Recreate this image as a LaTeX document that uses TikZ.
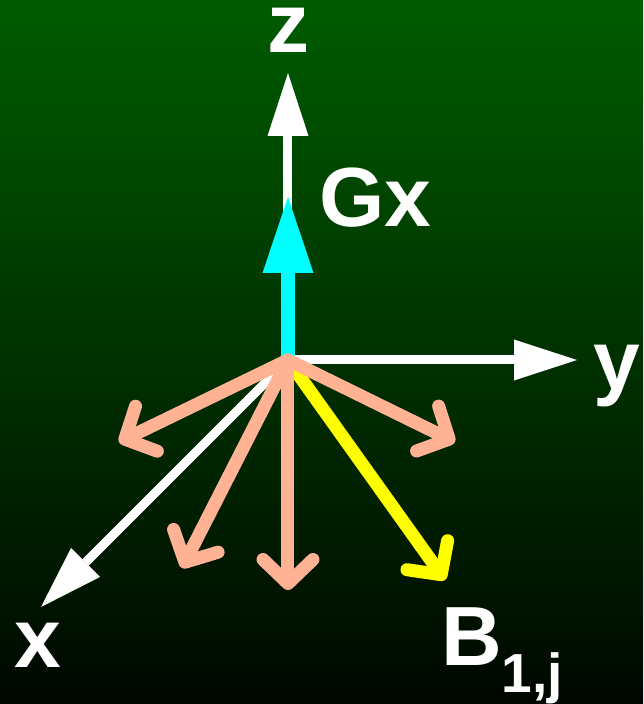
\documentclass[tikz,border=0pt]{standalone}
\usepackage{fontspec}
\setmainfont{Liberation Sans}
\usepackage{tikz}
\usetikzlibrary{arrows.meta,positioning}
\definecolor{BgTop}{HTML}{005C00}
\definecolor{BgBot}{HTML}{000700}
\definecolor{Salmon}{HTML}{FFB394}
\definecolor{Aqua}{HTML}{00FFFF}
\definecolor{Lemon}{HTML}{FFFF00}
\tikzset{
  axis/.style={-{Triangle[length=63pt,width=41pt,line width=0pt]},line width=9pt,draw=white},
  gfield/.style={-{Triangle[length=76pt,width=51pt,line width=0pt]},line width=14pt,draw=Aqua},
  bvec/.style={-{Straight Barb[length=24pt,width=50pt,round]},line width=13pt,draw=Salmon,line cap=round},
  bsel/.style={bvec,draw=Lemon},
  lbl/.style={text=white,font=\fontsize{84}{90}\selectfont\bfseries,inner sep=0pt}
}

\begin{document}
\begin{tikzpicture}[x=1pt,y=1pt]
        \shade[top color=BgTop,bottom color=BgBot] (-288,-344) rectangle (355,360);
        \useasboundingbox (-288,-344) rectangle (355,360);

        \coordinate (O) at (0,0);
        \coordinate (zt) at (0,287);
        \coordinate (gt) at (0,163);
        \coordinate (yt) at (289,0);
        \coordinate (xt) at (-247,-247);
        \coordinate (b1) at (-169,-82);
        \coordinate (b2) at (-106,-208);
        \coordinate (b3) at (0,-230);
        \coordinate (b4) at (167,-82);
        \coordinate (bj) at (157,-220);

        \node[lbl,anchor=base] (zl) at (1,307) {z};
        \node[lbl,anchor=base west] (gl) at (31,133) {Gx};
        \node[lbl,anchor=base west] (yl) at (305,-29) {y};
        \node[lbl,anchor=base west] (xl) at (-274,-307) {x};
        \node[lbl,anchor=base west] (bl) at (153,-305) {B\raisebox{-27pt}{\fontsize{55}{60}\selectfont 1,j}};

        \draw[bsel] (O)--(bj);
        \draw[axis] (O)--(xt);
        \draw[axis] (O)--(yt);
        \draw[axis] (O)--(zt);
        \draw[gfield] (O)--(gt);
        \draw[bvec] (O)--(b1);
        \draw[bvec] (O)--(b2);
        \draw[bvec] (O)--(b3);
        \draw[bvec] (O)--(b4);
      \end{tikzpicture}
\end{document}
